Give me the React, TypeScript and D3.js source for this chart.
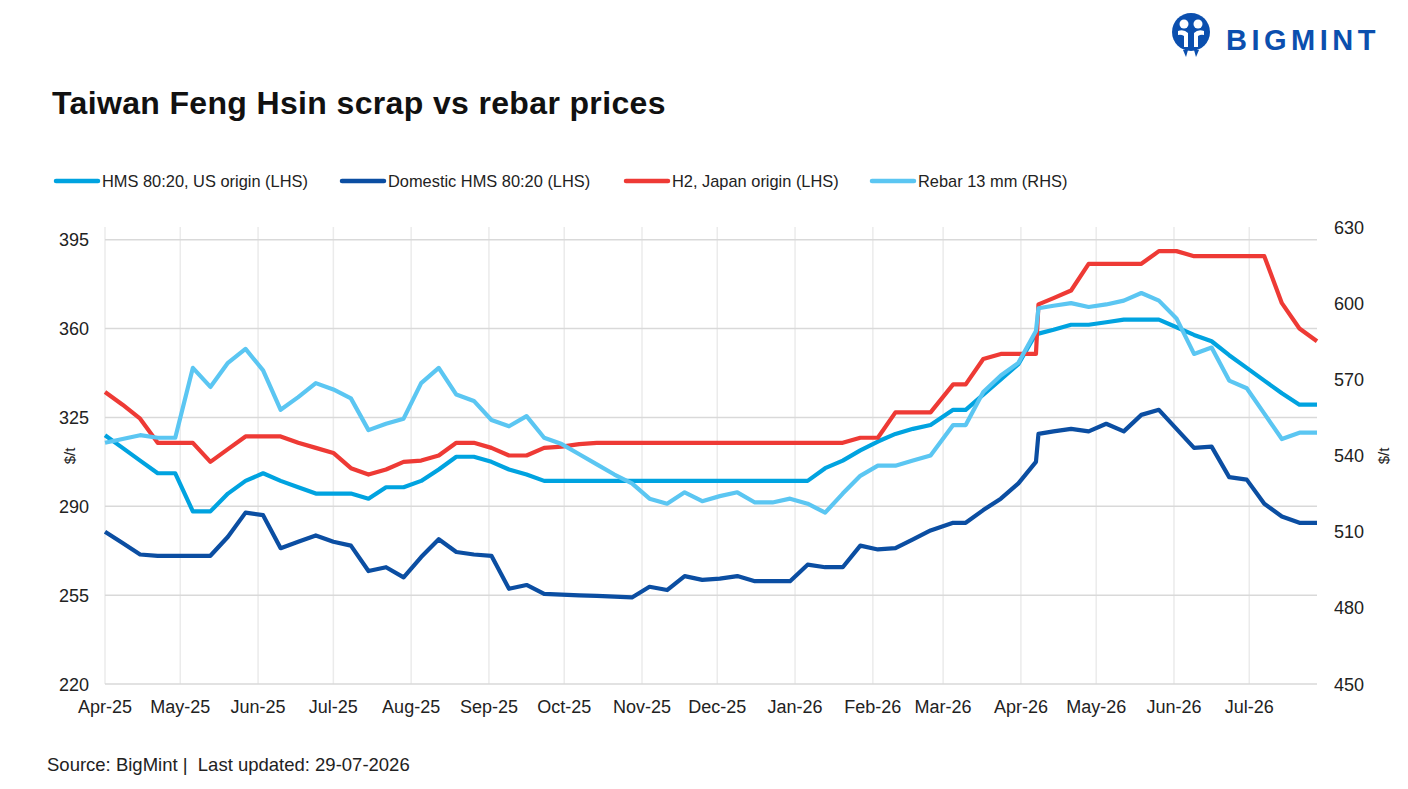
import * as d3 from 'd3'

// weekly price dates (one duplicate in early April 2026 where prices were reset)
const dates = [
  '2025-04-01', '2025-04-08', '2025-04-15', '2025-04-22', '2025-04-29',
  '2025-05-06', '2025-05-13', '2025-05-20', '2025-05-27', '2025-06-03',
  '2025-06-10', '2025-06-17', '2025-06-24', '2025-07-01', '2025-07-08',
  '2025-07-15', '2025-07-22', '2025-07-29', '2025-08-05', '2025-08-12',
  '2025-08-19', '2025-08-26', '2025-09-02', '2025-09-09', '2025-09-16',
  '2025-09-23', '2025-09-30', '2025-10-07', '2025-10-14', '2025-10-21',
  '2025-10-28', '2025-11-04', '2025-11-11', '2025-11-18', '2025-11-25',
  '2025-12-02', '2025-12-09', '2025-12-16', '2025-12-23', '2025-12-30',
  '2026-01-06', '2026-01-13', '2026-01-20', '2026-01-27', '2026-02-03',
  '2026-02-10', '2026-02-17', '2026-02-24', '2026-03-05', '2026-03-10',
  '2026-03-17', '2026-03-24', '2026-03-31', '2026-04-07', '2026-04-08',
  '2026-04-14', '2026-04-21', '2026-04-28', '2026-05-05', '2026-05-12',
  '2026-05-19', '2026-05-26', '2026-06-02', '2026-06-09', '2026-06-16',
  '2026-06-23', '2026-06-30', '2026-07-07', '2026-07-14', '2026-07-21',
  '2026-07-28',
]

const hmsUs = [
  318, 313, 308, 303, 303, 288, 288, 295, 300, 303,
  300, 297.5, 295, 295, 295, 293, 297.5, 297.5, 300, 304.5,
  309.5, 309.5, 307.5, 304.5, 302.5, 300, 300, 300, 300, 300,
  300, 300, 300, 300, 300, 300, 300, 300, 300, 300,
  300, 305, 308, 312, 315.5, 318.5, 320.5, 322, 328, 328,
  334, 340, 346, 358, 358, 359.5, 361.5, 361.5, 362.5, 363.5,
  363.5, 363.5, 360.5, 357.5, 355, 349.5, 344.5, 339.5, 334.5, 330,
  330,
]

const domestic = [
  280, 275.5, 271, 270.5, 270.5, 270.5, 270.5, 278, 287.5, 286.5,
  273.5, 276, 278.5, 276, 274.5, 264.5, 266, 262, 270, 277,
  272, 271, 270.5, 257.5, 259, 255.5, 255.2, 254.9, 254.7, 254.4,
  254.1, 258.3, 257, 262.5, 261, 261.5, 262.5, 260.5, 260.5, 260.5,
  267, 266, 266, 274.5, 273, 273.5, 277, 280.5, 283.5, 283.5,
  288.5, 293, 299, 307.5, 318.5, 319.5, 320.5, 319.5, 322.5, 319.5,
  326, 328, 320.5, 313, 313.5, 301.5, 300.5, 291, 286, 283.5,
  283.5,
]

const h2Japan = [
  335, 330, 324.5, 315, 315, 315, 307.5, 312.5, 317.5, 317.5,
  317.5, 315, 313, 311, 305, 302.5, 304.5, 307.5, 308, 310,
  315, 315, 313, 310, 310, 313, 313.5, 314.5, 315, 315,
  315, 315, 315, 315, 315, 315, 315, 315, 315, 315,
  315, 315, 315, 317, 317, 327, 327, 327, 338, 338,
  348, 350, 350, 350, 369.5, 372, 375, 385.5, 385.5, 385.5,
  385.5, 390.5, 390.5, 388.5, 388.5, 388.5, 388.5, 388.5, 370, 360,
  355,
]

const rebar = [
  545, 546.5, 548, 547, 547, 574.5, 567, 576.5, 582, 573.5,
  558, 563, 568.5, 566, 562.5, 550, 552.5, 554.5, 568.5, 574.5,
  564, 561.5, 554, 551.5, 555.5, 547, 544.5, 540.5, 536.5, 532.5,
  529, 523, 521, 525.5, 522, 524, 525.5, 521.5, 521.5, 523,
  521, 517.5, 525, 532, 536, 536, 538, 540, 552, 552,
  565, 571.5, 576.5, 589, 598, 599, 600, 598.5, 599.5, 601,
  604, 601, 594, 580, 582.5, 569.5, 566.5, 556.5, 546.5, 549,
  549,
]

const leftTicks = [220, 255, 290, 325, 360, 395]
const rightTicks = [450, 480, 510, 540, 570, 600, 630]
const monthLabels = [
  'Apr-25', 'May-25', 'Jun-25', 'Jul-25', 'Aug-25', 'Sep-25', 'Oct-25', 'Nov-25',
  'Dec-25', 'Jan-26', 'Feb-26', 'Mar-26', 'Apr-26', 'May-26', 'Jun-26', 'Jul-26',
]

const series = [
  { name: 'HMS 80:20, US origin (LHS)', values: hmsUs, color: '#00a3e0', axis: 'left' },
  { name: 'Domestic HMS 80:20 (LHS)', values: domestic, color: '#0b4ea2', axis: 'left' },
  { name: 'H2, Japan origin (LHS)', values: h2Japan, color: '#ee3a35', axis: 'left' },
  { name: 'Rebar 13 mm (RHS)', values: rebar, color: '#5bc6f2', axis: 'right' },
]

const W = 1408
const H = 789
const FONT = '"Liberation Sans", Arial, sans-serif'

export default function App() {
  const parseDay = d3.timeParse('%Y-%m-%d')
  const parseMonth = d3.timeParse('%b-%y')
  const days = dates.map(d => parseDay(d) as Date)

  const x = d3.scaleTime()
    .domain([days[0], days[days.length - 1]])
    .range([105, 1317])
  const yLeft = d3.scaleLinear().domain([220, 400]).range([684, 227])
  const yRight = d3.scaleLinear().domain([450, 630]).range([684, 227])

  const legendX = [56, 342, 626, 872]

  return (
    <svg
      width={W}
      height={H}
      style={{ position: 'absolute', left: 0, top: 0, background: '#fff' }}
      fontFamily={FONT}
    >
      {/* logo */}
      <g>
        <circle cx={1191} cy={32} r={19} fill="#0b4fae" />
        <circle cx={1184} cy={24} r={4.5} fill="#fff" />
        <circle cx={1198} cy={24} r={4.5} fill="#fff" />
        <path d="M1178 31 Q1184 29 1188 33 L1188 47 L1184 47 L1184 36 Q1181 34 1178 35 Z" fill="#fff" />
        <path d="M1204 31 Q1198 29 1194 33 L1194 47 L1198 47 L1198 36 Q1201 34 1204 35 Z" fill="#fff" />
        <path d="M1183 50 L1186 57 L1188 50 Z" fill="#0b4fae" />
        <path d="M1194 50 L1196 57 L1199 50 Z" fill="#0b4fae" />
        <text x={1226} y={50} fontSize={29} fontWeight={700} fill="#0b4fae" letterSpacing={4.5}>
          BIGMINT
        </text>
      </g>

      <text x={52} y={114} fontSize={32} fontWeight={700} fill="#111" letterSpacing={0.35}>
        Taiwan Feng Hsin scrap vs rebar prices
      </text>

      {/* legend */}
      {series.map((s, i) => (
        <g key={s.name}>
          <line
            x1={legendX[i]} x2={legendX[i] + 42} y1={181} y2={181}
            stroke={s.color} strokeWidth={4.5} strokeLinecap="round"
          />
          <text x={legendX[i] + 46} y={186.5} fontSize={16.4} fill="#222">{s.name}</text>
        </g>
      ))}

      {/* grid */}
      {monthLabels.map(m => {
        const xm = x(parseMonth(m) as Date)
        return <line key={'v' + m} x1={xm} x2={xm} y1={227} y2={684} stroke="#ebebeb" strokeWidth={1.5} />
      })}
      {leftTicks.map(t => (
        <line key={'h' + t} x1={105} x2={1317} y1={yLeft(t)} y2={yLeft(t)} stroke="#d9d9d9" strokeWidth={1.5} />
      ))}

      {/* series */}
      {series.map(s => {
        const y = s.axis === 'left' ? yLeft : yRight
        const line = d3.line<number>()
          .x((_, i) => x(days[i]))
          .y(v => y(v))
        return (
          <path
            key={s.name}
            d={line(s.values) || ''}
            fill="none"
            stroke={s.color}
            strokeWidth={4.2}
            strokeLinejoin="round"
          />
        )
      })}

      {/* axes labels */}
      {leftTicks.map(t => (
        <text key={'l' + t} x={89} y={yLeft(t) + 6.5} textAnchor="end" fontSize={18} fill="#222">{t}</text>
      ))}
      {rightTicks.map(t => (
        <text key={'r' + t} x={1334} y={yRight(t) + 6.5} fontSize={18} fill="#222">{t}</text>
      ))}
      {monthLabels.map(m => (
        <text key={'m' + m} x={x(parseMonth(m) as Date)} y={713} textAnchor="middle" fontSize={18} fill="#222">
          {m}
        </text>
      ))}
      <text transform="translate(75,456) rotate(-90)" textAnchor="middle" fontSize={15} fill="#222">$/t</text>
      <text transform="translate(1389,456) rotate(-90)" textAnchor="middle" fontSize={15} fill="#222">$/t</text>

      <text x={47} y={771} fontSize={18.5} fill="#222">
        {'Source: BigMint |\u00a0\u00a0Last updated: 29-07-2026'}
      </text>
    </svg>
  )
}
